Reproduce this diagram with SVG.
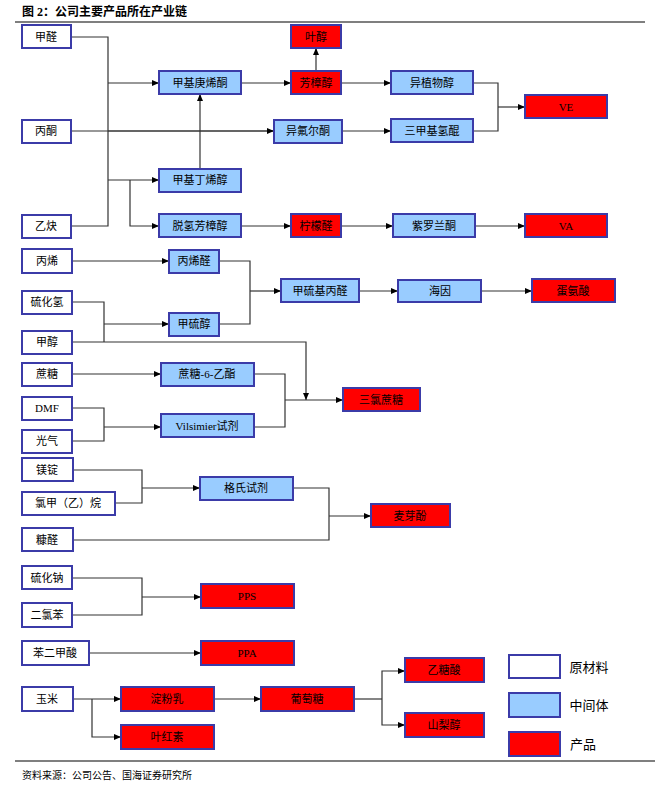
<svg xmlns="http://www.w3.org/2000/svg" width="661" height="786" viewBox="0 0 661 786">
<defs>
<marker id="a" markerWidth="8" markerHeight="8" refX="7" refY="3" orient="auto" markerUnits="userSpaceOnUse"><path d="M0,0 L7,3 L0,6 z" fill="#000"/></marker>
<style>
rect{stroke:#3b3ba8;stroke-width:2}
.w{fill:#fff}.b{fill:#99ccff}.r{fill:#ff0000}
text{font-family:"Liberation Serif","Noto Sans CJK SC",serif;font-size:11px;text-anchor:middle;dominant-baseline:central;fill:#000}
.c path{fill:none;stroke:#333;stroke-width:1.2}
.c .m{marker-end:url(#a)}
</style>
</defs>
<rect width="661" height="786" fill="#fff" style="stroke:none"/>
<text x="22" y="12" style="text-anchor:start;font-weight:bold;font-size:12px">图 2：公司主要产品所在产业链</text>
<path d="M15 22H645" stroke="#000" stroke-width="1.2"/>
<g class="c">
<path d="M71 37H108V226H71M71 131H274"/>
<path class="m" d="M108 83H159"/><path class="m" d="M108 180H159"/><path class="m" d="M130 180V226H159"/>
<path class="m" d="M200 169V94"/><path class="m" d="M241 83H291"/><path class="m" d="M316 71V48"/>
<path class="m" d="M108 131H274"/><path class="m" d="M341 83H391"/><path class="m" d="M342 131H391"/>
<path d="M473 83H498V131H473"/><path class="m" d="M498 107H525"/>
<path class="m" d="M241 226H291"/><path class="m" d="M341 226H393"/><path class="m" d="M475 226H525"/>
<path class="m" d="M72 261H169"/><path d="M72 302H104V342"/><path class="m" d="M104 324H169"/>
<path d="M219 261H250V324H219"/><path class="m" d="M250 291H281"/><path class="m" d="M359 291H398"/><path class="m" d="M481 291H532"/>
<path class="m" d="M72 342H306V400"/>
<path class="m" d="M72 374H161"/><path d="M72 408H104V441H72"/><path class="m" d="M104 427H161"/>
<path d="M254 374H285V427H254"/><path class="m" d="M285 400H343"/>
<path d="M73 470H142V503H115"/><path class="m" d="M142 488H200"/>
<path d="M293 488H329V540H73"/><path class="m" d="M329 516H371"/>
<path d="M72 578H142V615H72"/><path class="m" d="M142 597H201"/>
<path class="m" d="M89 653H201"/>
<path class="m" d="M73 699H121"/><path class="m" d="M92 699V737H121"/><path class="m" d="M214 699H261"/>
<path d="M354 699H382"/><path class="m" d="M382 699V671H405"/><path class="m" d="M382 699V725H405"/>
</g>
<g id="n1"><rect class="w" x="22" y="25" width="49" height="23"/><text x="46" y="37">甲醛</text></g>
<g id="n2"><rect class="w" x="22" y="120" width="49" height="23"/><text x="46" y="131">丙酮</text></g>
<g id="n3"><rect class="w" x="22" y="215" width="49" height="23"/><text x="46" y="226">乙炔</text></g>
<g id="n4"><rect class="b" x="159" y="71" width="82" height="23"/><text x="200" y="83">甲基庚烯酮</text></g>
<g id="n5"><rect class="b" x="159" y="169" width="82" height="23"/><text x="200" y="180">甲基丁烯醇</text></g>
<g id="n6"><rect class="b" x="159" y="214" width="82" height="23"/><text x="200" y="226">脱氢芳樟醇</text></g>
<g id="n7"><rect class="r" x="291" y="25" width="50" height="23"/><text x="316" y="37">叶醇</text></g>
<g id="n8"><rect class="r" x="291" y="71" width="50" height="23"/><text x="316" y="83">芳樟醇</text></g>
<g id="n9"><rect class="b" x="274" y="120" width="68" height="23"/><text x="308" y="131">异氟尔酮</text></g>
<g id="n10"><rect class="r" x="291" y="214" width="50" height="23"/><text x="316" y="226">柠檬醛</text></g>
<g id="n11"><rect class="b" x="391" y="71" width="82" height="23"/><text x="432" y="83">异植物醇</text></g>
<g id="n12"><rect class="b" x="391" y="119" width="82" height="23"/><text x="432" y="131">三甲基氢醌</text></g>
<g id="n13"><rect class="b" x="393" y="214" width="82" height="23"/><text x="434" y="226">紫罗兰酮</text></g>
<g id="n14"><rect class="r" x="525" y="95" width="82" height="23"/><text x="566" y="107">VE</text></g>
<g id="n15"><rect class="r" x="525" y="214" width="82" height="23"/><text x="566" y="226">VA</text></g>
<g id="n16"><rect class="w" x="22" y="249" width="50" height="24"/><text x="47" y="261">丙烯</text></g>
<g id="n17"><rect class="w" x="22" y="291" width="50" height="23"/><text x="47" y="302">硫化氢</text></g>
<g id="n18"><rect class="w" x="22" y="331" width="50" height="23"/><text x="47" y="342">甲醇</text></g>
<g id="n19"><rect class="b" x="169" y="250" width="50" height="23"/><text x="194" y="261">丙烯醛</text></g>
<g id="n20"><rect class="b" x="169" y="313" width="50" height="23"/><text x="194" y="324">甲硫醇</text></g>
<g id="n21"><rect class="b" x="281" y="279" width="78" height="23"/><text x="320" y="291">甲硫基丙醛</text></g>
<g id="n22"><rect class="b" x="398" y="280" width="83" height="22"/><text x="440" y="291">海因</text></g>
<g id="n23"><rect class="r" x="532" y="279" width="83" height="23"/><text x="573" y="291">蛋氨酸</text></g>
<g id="n24"><rect class="w" x="22" y="363" width="50" height="23"/><text x="47" y="374">蔗糖</text></g>
<g id="n25"><rect class="w" x="22" y="397" width="50" height="23"/><text x="47" y="408">DMF</text></g>
<g id="n26"><rect class="w" x="22" y="430" width="50" height="23"/><text x="47" y="441">光气</text></g>
<g id="n27"><rect class="b" x="161" y="363" width="93" height="23"/><text x="207" y="374">蔗糖-6-乙酯</text></g>
<g id="n28"><rect class="b" x="161" y="414" width="93" height="23"/><text x="207" y="426">Vilsimier试剂</text></g>
<g id="n29"><rect class="r" x="343" y="388" width="77" height="23"/><text x="381" y="400">三氯蔗糖</text></g>
<g id="n30"><rect class="w" x="22" y="458" width="51" height="23"/><text x="47" y="470">镁锭</text></g>
<g id="n31"><rect class="w" x="22" y="492" width="93" height="23"/><text x="68" y="503">氯甲（乙）烷</text></g>
<g id="n32"><rect class="w" x="22" y="528" width="51" height="23"/><text x="47" y="540">糠醛</text></g>
<g id="n33"><rect class="b" x="200" y="477" width="93" height="23"/><text x="246" y="488">格氏试剂</text></g>
<g id="n34"><rect class="r" x="371" y="504" width="79" height="23"/><text x="410" y="516">麦芽酚</text></g>
<g id="n35"><rect class="w" x="22" y="566" width="50" height="23"/><text x="47" y="578">硫化钠</text></g>
<g id="n36"><rect class="w" x="22" y="603" width="50" height="24"/><text x="47" y="615">二氯苯</text></g>
<g id="n37"><rect class="r" x="201" y="584" width="93" height="24"/><text x="247" y="596">PPS</text></g>
<g id="n38"><rect class="w" x="22" y="641" width="67" height="24"/><text x="55" y="653">苯二甲酸</text></g>
<g id="n39"><rect class="r" x="201" y="641" width="93" height="24"/><text x="247" y="653">PPA</text></g>
<g id="n40"><rect class="w" x="22" y="687" width="51" height="24"/><text x="47" y="699">玉米</text></g>
<g id="n41"><rect class="r" x="121" y="687" width="93" height="24"/><text x="167" y="699">淀粉乳</text></g>
<g id="n42"><rect class="r" x="121" y="725" width="93" height="24"/><text x="167" y="737">叶红素</text></g>
<g id="n43"><rect class="r" x="261" y="687" width="93" height="24"/><text x="307" y="699">葡萄糖</text></g>
<g id="n44"><rect class="r" x="405" y="658" width="79" height="24"/><text x="444" y="670">乙糖酸</text></g>
<g id="n45"><rect class="r" x="405" y="713" width="79" height="24"/><text x="444" y="725">山梨醇</text></g>
<g id="legend">
<rect class="w" x="509" y="655" width="51" height="23"/><text x="589" y="667" style="font-size:13px">原材料</text>
<rect class="b" x="509" y="693" width="51" height="24"/><text x="589" y="705" style="font-size:13px">中间体</text>
<rect class="r" x="509" y="732" width="51" height="24"/><text x="583" y="744" style="font-size:13px">产品</text>
</g>
<path d="M15 761H655" stroke="#000" stroke-width="1.2"/>
<text x="22" y="775" style="text-anchor:start;font-size:10px">资料来源：公司公告、国海证券研究所</text>
</svg>
